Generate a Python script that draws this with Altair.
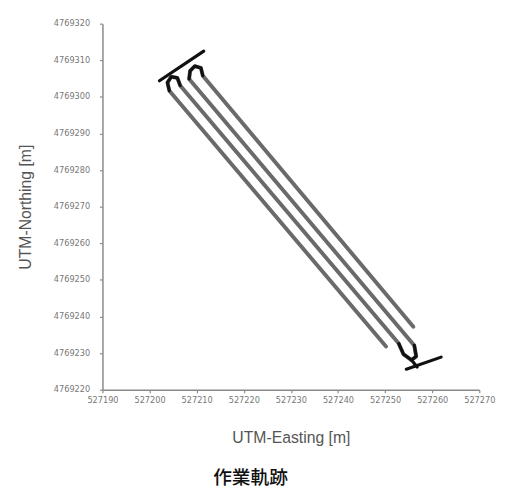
import altair as alt
import pandas as pd

# Work track (tractor path): UTM easting / northing [m]
track_east = [527250.2, 527204.2, 527203.8, 527204.6, 527205.9, 527206.5,
              527252.9, 527253.9, 527255.6, 527256.6, 527256.2,
              527208.4, 527208.6, 527209.6, 527210.9, 527211.3, 527256.0]
track_north = [4769231.8, 4769301.7, 4769303.9, 4769305.5, 4769305.2, 4769303.1,
               4769232.6, 4769229.7, 4769228.1, 4769229.1, 4769232.1,
               4769304.9, 4769307.1, 4769308.4, 4769307.9, 4769305.8, 4769237.2]

# Turning segments (drawn darker)
turn_ids = ["t1"] * 5 + ["t2"] * 5 + ["t3"] * 5 + ["bar_top"] * 2 + ["bar_bottom"] * 2 + ["stem"] * 2
turn_east = [527204.2, 527203.8, 527204.6, 527205.9, 527206.5,
             527252.9, 527253.9, 527255.6, 527256.6, 527256.2,
             527208.4, 527208.6, 527209.6, 527210.9, 527211.3,
             527202.1, 527211.5,
             527254.5, 527261.9,
             527255.6, 527256.8]
turn_north = [4769301.7, 4769303.9, 4769305.5, 4769305.2, 4769303.1,
              4769232.6, 4769229.7, 4769228.1, 4769229.1, 4769232.1,
              4769304.9, 4769307.1, 4769308.4, 4769307.9, 4769305.8,
              4769304.4, 4769312.5,
              4769225.6, 4769228.9,
              4769228.1, 4769226.2]

x_ticks = [527190, 527200, 527210, 527220, 527230, 527240, 527250, 527260, 527270]
y_ticks = [4769220, 4769230, 4769240, 4769250, 4769260, 4769270, 4769280, 4769290, 4769300, 4769310, 4769320]

track = pd.DataFrame({"e": track_east, "n": track_north, "i": list(range(len(track_east)))})
turns = pd.DataFrame({"e": turn_east, "n": turn_north, "g": turn_ids,
                      "i": list(range(len(turn_east)))})

x_scale = alt.Scale(domain=[527190, 527270], nice=False, zero=False)
y_scale = alt.Scale(domain=[4769220, 4769320], nice=False, zero=False)
x_axis = alt.Axis(values=x_ticks, tickCount=9, format="d", title="UTM-Easting [m]",
                  labelPadding=3, titlePadding=26, labelOverlap=False, labelFlush=False)
y_axis = alt.Axis(values=y_ticks, tickCount=11, format="d", title="UTM-Northing [m]",
                  labelPadding=10, titlePadding=20, labelOverlap=False, labelFlush=False)

main = alt.Chart(track).mark_line(color="#6a6a6a", strokeWidth=4, strokeCap="round",
                                  strokeJoin="round").encode(
    x=alt.X("e:Q", scale=x_scale, axis=x_axis),
    y=alt.Y("n:Q", scale=y_scale, axis=y_axis),
    order="i:Q")

dark = alt.Chart(turns).mark_line(color="#111111", strokeWidth=3.2, strokeCap="round",
                                  strokeJoin="round").encode(
    x=alt.X("e:Q", scale=x_scale, axis=x_axis),
    y=alt.Y("n:Q", scale=y_scale, axis=y_axis),
    detail="g:N", order="i:Q")

chart = (main + dark).properties(
    width=383, height=372,
    autosize="none",
    padding={"left": 96, "top": 12, "right": 19, "bottom": 97},
    title=alt.TitleParams(text="作業軌跡", orient="bottom", anchor="middle", dx=-41,
                          offset=25, font="Noto Sans CJK JP", fontSize=19,
                          fontWeight=500, color="#111111"),
).configure_view(stroke=None).configure_axis(
    grid=False,
    domainColor="#8a8a8a", domainWidth=1.5,
    tickColor="#8a8a8a", tickSize=3, tickWidth=1.2,
    labelFont="DejaVu Sans", labelFontSize=8.3, labelColor="#777777",
    titleFont="Liberation Sans", titleFontSize=16, titleFontWeight="normal",
    titleColor="#555555",
)

chart.save("out.html", embed_options={"renderer": "svg", "actions": False})
